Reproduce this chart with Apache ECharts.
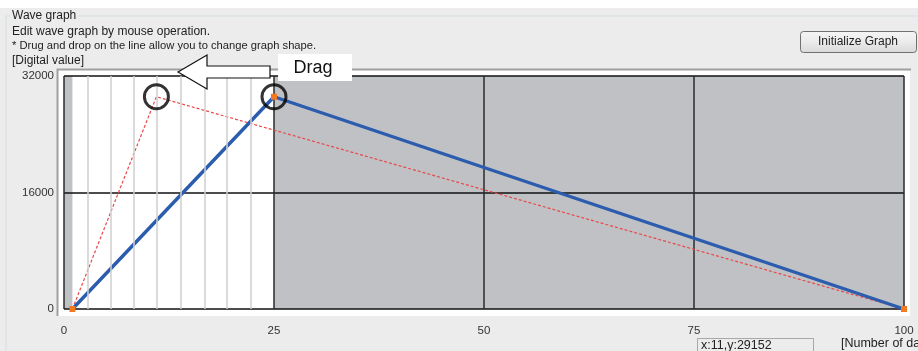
<!DOCTYPE html>
<html>
<head>
<meta charset="utf-8">
<script src="https://cdn.jsdelivr.net/npm/echarts@6/dist/echarts.min.js"></script>
<style>
  html, body { margin: 0; padding: 0; background: #ececec; }
  #main { width: 918px; height: 351px; }
</style>
</head>
<body>
<div id="main"></div>
<script>
// 波形データ（編集後 / 編集前）
var editedLine = [[1, 0], [25, 29152], [100, 0]];
var originalLine = [[1, 0], [11, 29152], [100, 0]];
var circledPoints = [[11, 29152], [25, 29152]];
var editRange = [1, 25];
var fineGrid = [2.8, 5.6, 8.3, 11.1, 13.9, 16.7, 19.4, 22.2];
var xTicks = { min: 0, max: 100, interval: 25 };
var yTicks = { min: 0, max: 32000, interval: 16000 };

var uiFont = 'Liberation Sans';
var myChart = echarts.init(document.getElementById('main'));

myChart.setOption({
    animation: false,
    backgroundColor: '#ececec',
    grid: {
        left: 64, right: 14, top: 76, bottom: 42,
        show: true, backgroundColor: '#c0c1c5', borderWidth: 0
    },
    xAxis: {
        type: 'value', min: xTicks.min, max: xTicks.max, interval: xTicks.interval,
        z: 2,
        axisLine: { show: false }, axisTick: { show: false },
        axisLabel: { color: '#333', fontSize: 11.5, fontFamily: uiFont, margin: 16 },
        splitLine: { lineStyle: { color: '#2a2a2a', width: 1.5 } }
    },
    yAxis: {
        type: 'value', min: yTicks.min, max: yTicks.max, interval: yTicks.interval,
        z: 2,
        axisLine: { show: false }, axisTick: { show: false },
        axisLabel: { color: '#333', fontSize: 11.5, fontFamily: uiFont, margin: 10,
            formatter: function (v) { return String(v); } },
        splitLine: { lineStyle: { color: '#111', width: 1.5 } }
    },
    graphic: [
        // 上部の白帯とグループ枠
        { type: 'rect', shape: { x: 0, y: 0, width: 918, height: 8 }, style: { fill: '#fff' } },
        { type: 'polyline', shape: { points: [[6, 351], [6, 16], [10, 16]] }, style: { stroke: '#d3dde3', fill: null, lineWidth: 1 } },
        { type: 'line', shape: { x1: 78, y1: 16, x2: 918, y2: 16 }, style: { stroke: '#d3dde3', lineWidth: 1 } },
        { type: 'text', x: 12, y: 16, style: { text: 'Wave graph', fill: '#222', font: '12px ' + uiFont, verticalAlign: 'middle' } },
        { type: 'text', x: 12, y: 32, style: { text: 'Edit wave graph by mouse operation.', fill: '#222', font: '12px ' + uiFont, verticalAlign: 'middle' } },
        { type: 'text', x: 12, y: 46, style: { text: '* Drug and drop on the line allow you to change graph shape.', fill: '#222', font: '11.2px ' + uiFont, verticalAlign: 'middle' } },
        { type: 'text', x: 12, y: 61, style: { text: '[Digital value]', fill: '#222', font: '12px ' + uiFont, verticalAlign: 'middle' } },
        // ボタン
        {
            type: 'rect', shape: { x: 800.5, y: 31.5, width: 116, height: 21, r: 3 },
            style: {
                fill: new echarts.graphic.LinearGradient(0, 0, 0, 1, [
                    { offset: 0, color: '#f5f5f5' }, { offset: 0.5, color: '#ebebeb' }, { offset: 1, color: '#d8d8d8' }
                ]),
                stroke: '#707070', lineWidth: 1
            }
        },
        { type: 'text', x: 858, y: 42, style: { text: 'Initialize Graph', fill: '#222', font: '12px ' + uiFont, align: 'center', verticalAlign: 'middle' } },
        // グラフ枠（くぼみ）
        { type: 'rect', z: -1, shape: { x: 57, y: 69, width: 853, height: 247 }, style: { fill: '#fff', stroke: null } },
        { type: 'polyline', z: -1, shape: { points: [[57.5, 316], [57.5, 69.5], [911, 69.5]] }, style: { stroke: '#a0a0a0', fill: null, lineWidth: 2 } },
        // ステータス表示
        { type: 'rect', shape: { x: 697.5, y: 338.5, width: 116, height: 14 }, style: { fill: '#ececec', stroke: '#a8a8a8', lineWidth: 1 } },
        { type: 'text', x: 701, y: 346, style: { text: 'x:11,y:29152', fill: '#222', font: '12.5px ' + uiFont, verticalAlign: 'middle' } },
        { type: 'text', x: 841, y: 344, style: { text: '[Number of data]', fill: '#222', font: '12.5px ' + uiFont, verticalAlign: 'middle' } },
        // ドラッグ矢印
        {
            type: 'polygon', z: 100,
            shape: { points: [[178, 72], [207, 55], [207, 66], [270, 66], [270, 78], [207, 78], [207, 89]] },
            style: { fill: '#fff', stroke: '#111', lineWidth: 1.2 }
        },
        { type: 'rect', z: 100, shape: { x: 278, y: 54, width: 74, height: 27 }, style: { fill: '#fff' } },
        { type: 'text', z: 101, x: 313, y: 68, style: { text: 'Drag', fill: '#111', font: '18px Liberation Sans', align: 'center', verticalAlign: 'middle' } }
    ],
    series: [
        {
            // 背景（編集範囲）
            type: 'line', z: 1, silent: true, data: [],
            markArea: {
                silent: true,
                itemStyle: { color: '#ffffff' },
                data: [[{ xAxis: editRange[0], yAxis: yTicks.min }, { xAxis: editRange[1], yAxis: yTicks.max }]]
            },
            markLine: {
                silent: true, symbol: 'none', label: { show: false },
                lineStyle: { color: '#cfcfcf', width: 1.5, type: 'solid' },
                data: fineGrid.map(function (v) { return { xAxis: v }; })
            }
        },
        {
            name: 'original', type: 'line', z: 3, data: originalLine,
            symbol: 'none',
            lineStyle: { color: '#e84848', width: 1.2, type: [3, 2] }
        },
        {
            name: 'edited', type: 'line', z: 4, data: editedLine,
            symbol: 'rect', symbolSize: 6, showAllSymbol: true,
            itemStyle: { color: '#f47a22' },
            lineStyle: { color: '#2b5cae', width: 3.4 }
        },
        {
            name: 'marker', type: 'scatter', z: 5, data: circledPoints,
            symbol: 'circle', symbolSize: 24,
            itemStyle: { color: 'rgba(0,0,0,0)', borderColor: '#000', borderWidth: 3 }
        }
    ]
});
</script>
</body>
</html>
